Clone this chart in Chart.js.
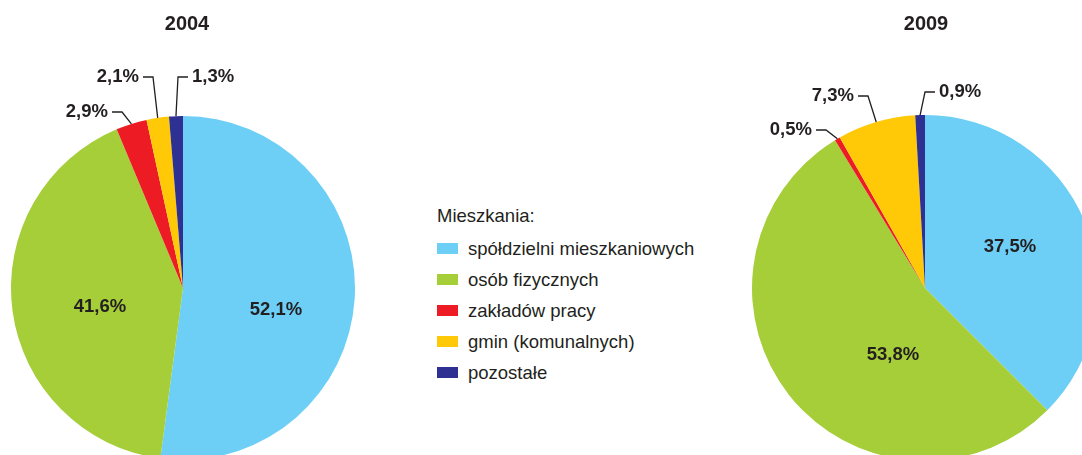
<!DOCTYPE html>
<html>
<head>
<meta charset="utf-8">
<script src="https://cdn.jsdelivr.net/npm/chart.js@4"></script>
<style>
  body { margin: 0; width: 1082px; height: 455px; overflow: hidden; background: #fff; position: relative; }
  canvas { position: absolute; }
  #legend { position: absolute; left: 437px; top: 202px; font: 18.5px "Liberation Sans", Arial, sans-serif; color: #231f20; }
  #legend .title { height: 27px; line-height: 27px; margin-bottom: 4px; }
  #legend .item { height: 31px; display: flex; align-items: center; }
  #legend .box { width: 21px; height: 11px; margin-right: 10px; }
</style>
</head>
<body>
<canvas id="pie2004" width="370" height="460" style="left:0;top:0"></canvas>
<canvas id="pie2009" width="400" height="461" style="left:740px;top:0"></canvas>
<div id="legend"></div>

<script>
// data
const legendTitle = 'Mieszkania:'
const categories = ['spółdzielni mieszkaniowych', 'osób fizycznych', 'zakładów pracy', 'gmin (komunalnych)', 'pozostałe']
const colors = ['#6dcff6', '#a6ce39', '#ed1c24', '#ffc907', '#2e3192']
const years = ['2004', '2009']
const values2004 = [52.1, 41.6, 2.9, 2.1, 1.3]
const values2009 = [37.5, 53.8, 0.5, 7.3, 0.9]

const ink = '#231f20'
const labelFont = 'bold 18.5px "Liberation Sans", Arial, sans-serif'

function fmt(v) {
  return v.toFixed(1).replace('.', ',') + '%'
}

// labels inside big slices + elbow leader lines for the small ones
const sliceLabels = {
  id: 'sliceLabels',
  afterDatasetsDraw(chart, args, opts) {
    const ctx = chart.ctx
    const meta = chart.getDatasetMeta(0)
    const vals = chart.data.datasets[0].data
    ctx.save()
    ctx.font = labelFont
    ctx.fillStyle = ink
    ctx.strokeStyle = ink
    ctx.lineWidth = 1.3
    ctx.textBaseline = 'middle'

    opts.inside.forEach(l => {
      const arc = meta.data[l.index]
      ctx.textAlign = 'center'
      ctx.fillText(fmt(vals[l.index]), arc.x + l.dx, arc.y + l.dy)
    })

    opts.outside.forEach(l => {
      const arc = meta.data[l.index]
      const p = arc.getProps(['x', 'y', 'startAngle', 'endAngle', 'outerRadius'], true)
      const mid = (p.startAngle + p.endAngle) / 2
      const ax = p.x + Math.cos(mid) * p.outerRadius
      const ay = p.y + Math.sin(mid) * p.outerRadius
      const ex = p.x + l.dx
      const ey = p.y + l.dy
      const hx = ex + l.dir * 10
      ctx.beginPath()
      ctx.moveTo(ax, ay)
      ctx.lineTo(ex, ey)
      ctx.lineTo(hx, ey)
      ctx.stroke()
      ctx.textAlign = l.dir < 0 ? 'right' : 'left'
      ctx.fillText(fmt(vals[l.index]), hx + l.dir * 4, ey)
    })

    // year title above the pie
    ctx.font = 'bold 20px "Liberation Sans", Arial, sans-serif'
    ctx.textAlign = 'center'
    ctx.fillText(opts.year, meta.data[0].x + opts.titleDx, 24)
    ctx.restore()
  }
}

function makePie(id, values, padding, labelOpts) {
  return new Chart(document.getElementById(id), {
    type: 'pie',
    data: {
      labels: categories,
      datasets: [{
        data: values,
        backgroundColor: colors,
        borderWidth: 0
      }]
    },
    options: {
      responsive: false,
      animation: false,
      layout: { padding: padding },
      plugins: {
        legend: { display: false },
        tooltip: { enabled: false },
        sliceLabels: labelOpts
      }
    },
    plugins: [sliceLabels]
  })
}

makePie('pie2004', values2004, { left: 11, right: 15, top: 116, bottom: 0 }, {
  year: years[0],
  titleDx: 4,
  inside: [
    { index: 0, dx: 93, dy: 22 },
    { index: 1, dx: -83, dy: 19 }
  ],
  outside: [
    { index: 2, dx: -61, dy: -176, dir: -1 },
    { index: 3, dx: -30, dy: -211, dir: -1 },
    { index: 4, dx: -5, dy: -211, dir: 1 }
  ]
})

makePie('pie2009', values2009, { left: 12, right: 42, top: 115, bottom: 0 }, {
  year: years[1],
  titleDx: 1,
  inside: [
    { index: 0, dx: 85, dy: -41 },
    { index: 1, dx: -32, dy: 67 }
  ],
  outside: [
    { index: 2, dx: -99, dy: -158, dir: -1 },
    { index: 3, dx: -57, dy: -192, dir: -1 },
    { index: 4, dx: 0, dy: -196, dir: 1 }
  ]
})

// legend in the middle
const legend = document.getElementById('legend')
let html = '<div class="title">' + legendTitle + '</div>'
for (let i = 0; i < categories.length; i++) {
  html += '<div class="item"><span class="box" style="background:' + colors[i] + '"></span>' + categories[i] + '</div>'
}
legend.innerHTML = html
</script>
</body>
</html>
